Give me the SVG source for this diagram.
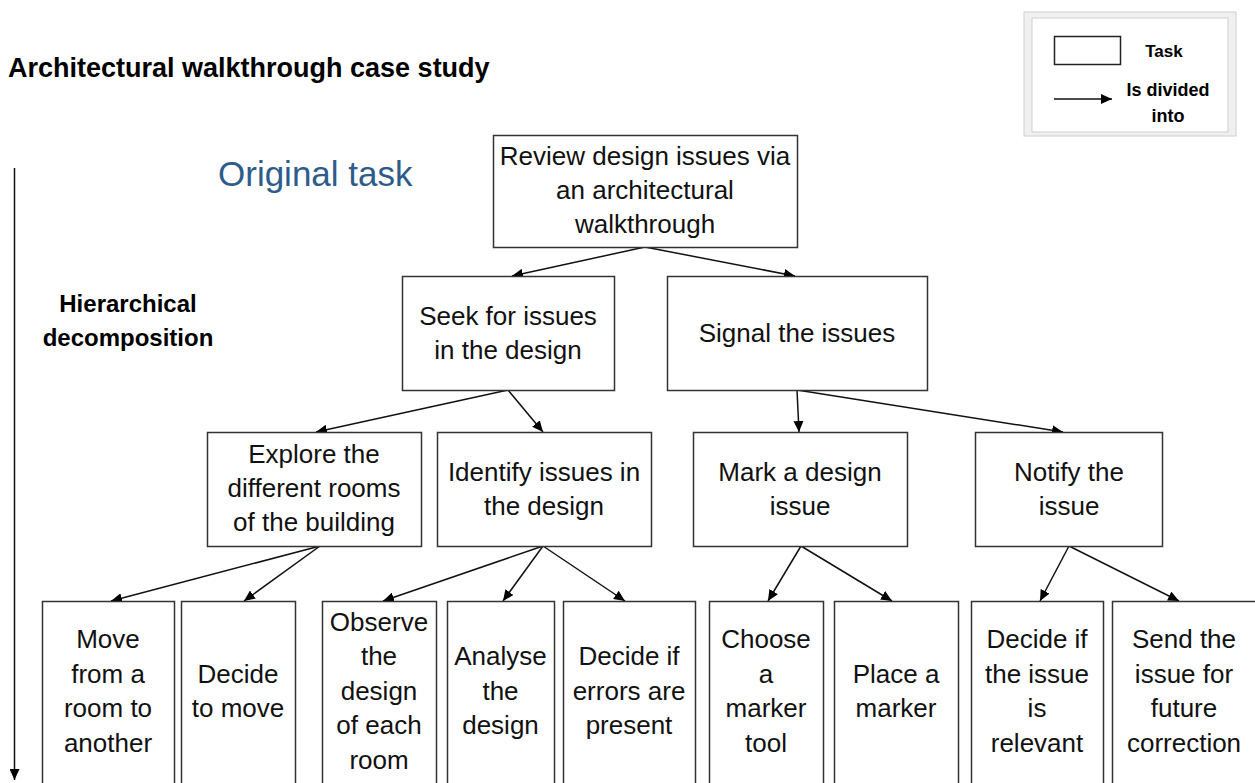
<svg xmlns="http://www.w3.org/2000/svg" width="1255" height="783" viewBox="0 0 1255 783">
<defs>
<marker id="ah" markerUnits="userSpaceOnUse" markerWidth="11" markerHeight="10" refX="11" refY="5" orient="auto">
<path d="M0,0 L11,5 L0,10 z" fill="#000"/>
</marker>
<style>
.box{fill:#fff;stroke:#333;stroke-width:1.5}
.t{font-family:"Liberation Sans",Arial,sans-serif;font-size:26px;fill:#111;text-anchor:middle}
.con line{stroke:#111;stroke-width:1.5;marker-end:url(#ah)}
.b{font-family:"Liberation Sans",Arial,sans-serif;font-weight:bold;fill:#000}
</style>
</defs>
<rect width="1255" height="783" fill="#fff"/>

<text class="b" x="8" y="77" font-size="27">Architectural walkthrough case study</text>
<text x="218" y="186" font-family="Liberation Sans,Arial,sans-serif" font-size="35" fill="#2E5C8A">Original task</text>
<text class="b" x="128" y="312" font-size="24" text-anchor="middle">Hierarchical</text>
<text class="b" x="128" y="346" font-size="24" text-anchor="middle">decomposition</text>

<g id="legend">
<rect x="1024" y="12" width="212" height="124" fill="#f0f0f0" stroke="#d0d0d0" stroke-width="1"/>
<rect x="1032" y="18" width="196" height="114" fill="#fff" stroke="#cfcfcf" stroke-width="1"/>
<rect x="1054.5" y="36.5" width="66" height="28" fill="#fff" stroke="#222" stroke-width="1.5"/>
<text class="b" x="1164" y="57" font-size="17" text-anchor="middle">Task</text>
<line x1="1054" y1="99" x2="1112" y2="99" stroke="#111" stroke-width="1.5" marker-end="url(#ah)"/>
<text class="b" x="1168" y="96" font-size="18" text-anchor="middle">Is divided</text>
<text class="b" x="1168" y="122" font-size="18" text-anchor="middle">into</text>
</g>

<g class="con" id="connectors">
<line x1="645" y1="247" x2="512" y2="276"/>
<line x1="645" y1="247" x2="795" y2="276"/>
<line x1="508" y1="390" x2="316" y2="432"/>
<line x1="508" y1="390" x2="543" y2="432"/>
<line x1="797" y1="390" x2="799" y2="432"/>
<line x1="797" y1="390" x2="1063" y2="432"/>
<line x1="320" y1="546" x2="111" y2="601"/>
<line x1="320" y1="546" x2="244" y2="601"/>
<line x1="543" y1="546" x2="383" y2="601"/>
<line x1="543" y1="546" x2="503" y2="601"/>
<line x1="543" y1="546" x2="625" y2="601"/>
<line x1="801" y1="546" x2="768" y2="601"/>
<line x1="801" y1="546" x2="892" y2="601"/>
<line x1="1069" y1="546" x2="1040" y2="601"/>
<line x1="1069" y1="546" x2="1179" y2="601"/>
<line x1="14.5" y1="168" x2="14.5" y2="780"/>
</g>

<g id="n0"><rect class="box" x="493.5" y="135.5" width="304" height="112"/>
<text class="t" x="645" y="165">Review design issues via</text>
<text class="t" x="645" y="199">an architectural</text>
<text class="t" x="645" y="233">walkthrough</text></g>

<g id="n1"><rect class="box" x="402.5" y="276.5" width="212" height="114"/>
<text class="t" x="508" y="325">Seek for issues</text>
<text class="t" x="508" y="359">in the design</text></g>

<g id="n2"><rect class="box" x="667.5" y="276.5" width="260" height="114"/>
<text class="t" x="797" y="342">Signal the issues</text></g>

<g id="n3"><rect class="box" x="207.5" y="432.5" width="214" height="114"/>
<text class="t" x="314" y="463">Explore the</text>
<text class="t" x="314" y="497">different rooms</text>
<text class="t" x="314" y="531">of the building</text></g>

<g id="n4"><rect class="box" x="437.5" y="432.5" width="214" height="114"/>
<text class="t" x="544" y="481">Identify issues in</text>
<text class="t" x="544" y="515">the design</text></g>

<g id="n5"><rect class="box" x="693.5" y="432.5" width="214" height="114"/>
<text class="t" x="800" y="481">Mark a design</text>
<text class="t" x="800" y="515">issue</text></g>

<g id="n6"><rect class="box" x="975.5" y="432.5" width="187" height="114"/>
<text class="t" x="1069" y="481">Notify the</text>
<text class="t" x="1069" y="515">issue</text></g>

<g id="n7"><rect class="box" x="42.5" y="601.5" width="132" height="190"/>
<text class="t" x="108" y="648">Move</text>
<text class="t" x="108" y="682.5">from a</text>
<text class="t" x="108" y="717">room to</text>
<text class="t" x="108" y="751.5">another</text></g>

<g id="n8"><rect class="box" x="181.5" y="601.5" width="114" height="190"/>
<text class="t" x="238" y="682.5">Decide</text>
<text class="t" x="238" y="717">to move</text></g>

<g id="n9"><rect class="box" x="322.5" y="601.5" width="114" height="190"/>
<text class="t" x="379" y="630.5">Observe</text>
<text class="t" x="379" y="665">the</text>
<text class="t" x="379" y="699.5">design</text>
<text class="t" x="379" y="734">of each</text>
<text class="t" x="379" y="768.5">room</text></g>

<g id="n10"><rect class="box" x="447.5" y="601.5" width="107" height="190"/>
<text class="t" x="500.5" y="665">Analyse</text>
<text class="t" x="500.5" y="699.5">the</text>
<text class="t" x="500.5" y="734">design</text></g>

<g id="n11"><rect class="box" x="563.5" y="601.5" width="132" height="190"/>
<text class="t" x="629" y="665">Decide if</text>
<text class="t" x="629" y="699.5">errors are</text>
<text class="t" x="629" y="734">present</text></g>

<g id="n12"><rect class="box" x="709.5" y="601.5" width="114" height="190"/>
<text class="t" x="766" y="648">Choose</text>
<text class="t" x="766" y="682.5">a</text>
<text class="t" x="766" y="717">marker</text>
<text class="t" x="766" y="751.5">tool</text></g>

<g id="n13"><rect class="box" x="834.5" y="601.5" width="124" height="190"/>
<text class="t" x="896" y="682.5">Place a</text>
<text class="t" x="896" y="717">marker</text></g>

<g id="n14"><rect class="box" x="971.5" y="601.5" width="132" height="190"/>
<text class="t" x="1037" y="648">Decide if</text>
<text class="t" x="1037" y="682.5">the issue</text>
<text class="t" x="1037" y="717">is</text>
<text class="t" x="1037" y="751.5">relevant</text></g>

<g id="n15"><rect class="box" x="1112.5" y="601.5" width="145" height="190"/>
<text class="t" x="1184" y="648">Send the</text>
<text class="t" x="1184" y="682.5">issue for</text>
<text class="t" x="1184" y="717">future</text>
<text class="t" x="1184" y="751.5">correction</text></g>
</svg>
